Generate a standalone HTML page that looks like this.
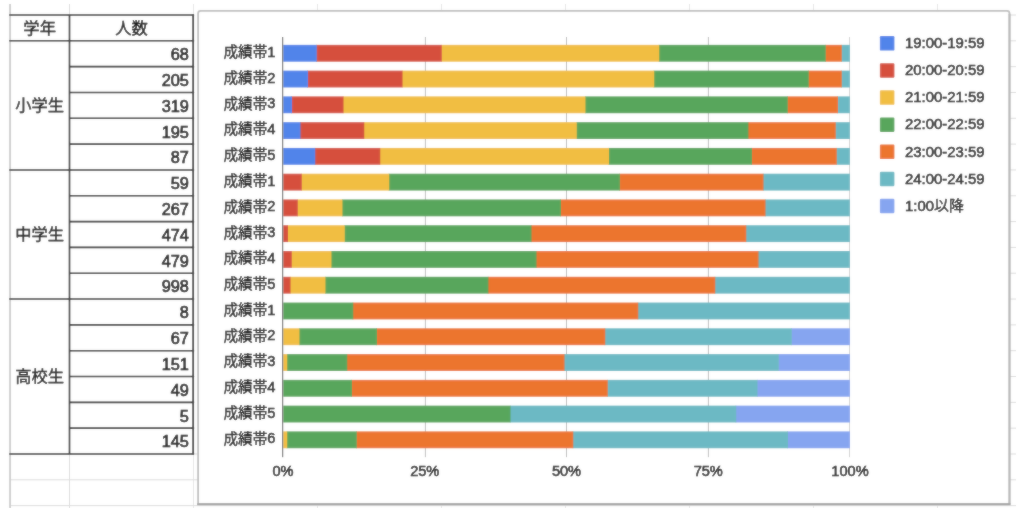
<!DOCTYPE html>
<html><head><meta charset="utf-8"><title>chart</title>
<style>
html,body{margin:0;padding:0;background:#fff;}
body{width:1024px;height:508px;overflow:hidden;}
svg{display:block;font-family:'Liberation Sans', 'Noto Sans CJK JP', sans-serif;}
</style></head><body>
<svg width="1024" height="508" viewBox="0 0 1024 508">
<filter id="bl" x="0" y="0" width="1024" height="508" filterUnits="userSpaceOnUse"><feGaussianBlur stdDeviation="0.9" result="b"/><feComposite in="SourceGraphic" in2="b" operator="arithmetic" k1="0" k2="0.6" k3="0.4" k4="0"/></filter>
<g filter="url(#bl)">
<rect width="1024" height="508" fill="#fff"/>
<line x1="9.8" y1="4" x2="9.8" y2="508" stroke="#dcdcdc" stroke-width="1"/>
<line x1="69.5" y1="4" x2="69.5" y2="508" stroke="#dcdcdc" stroke-width="1"/>
<line x1="193.5" y1="4" x2="193.5" y2="508" stroke="#e6e6e6" stroke-width="1"/>
<line x1="317.5" y1="4" x2="317.5" y2="508" stroke="#e6e6e6" stroke-width="1"/>
<line x1="441.5" y1="4" x2="441.5" y2="508" stroke="#e6e6e6" stroke-width="1"/>
<line x1="565.5" y1="4" x2="565.5" y2="508" stroke="#e6e6e6" stroke-width="1"/>
<line x1="689.5" y1="4" x2="689.5" y2="508" stroke="#e6e6e6" stroke-width="1"/>
<line x1="813.5" y1="4" x2="813.5" y2="508" stroke="#e6e6e6" stroke-width="1"/>
<line x1="937.5" y1="4" x2="937.5" y2="508" stroke="#e6e6e6" stroke-width="1"/>
<line x1="1009" y1="15.00" x2="1016" y2="15.00" stroke="#dcdcdc" stroke-width="1"/>
<line x1="1009" y1="40.82" x2="1016" y2="40.82" stroke="#dcdcdc" stroke-width="1"/>
<line x1="1009" y1="66.65" x2="1016" y2="66.65" stroke="#dcdcdc" stroke-width="1"/>
<line x1="1009" y1="92.47" x2="1016" y2="92.47" stroke="#dcdcdc" stroke-width="1"/>
<line x1="1009" y1="118.29" x2="1016" y2="118.29" stroke="#dcdcdc" stroke-width="1"/>
<line x1="1009" y1="144.12" x2="1016" y2="144.12" stroke="#dcdcdc" stroke-width="1"/>
<line x1="1009" y1="169.94" x2="1016" y2="169.94" stroke="#dcdcdc" stroke-width="1"/>
<line x1="1009" y1="195.76" x2="1016" y2="195.76" stroke="#dcdcdc" stroke-width="1"/>
<line x1="1009" y1="221.58" x2="1016" y2="221.58" stroke="#dcdcdc" stroke-width="1"/>
<line x1="1009" y1="247.41" x2="1016" y2="247.41" stroke="#dcdcdc" stroke-width="1"/>
<line x1="1009" y1="273.23" x2="1016" y2="273.23" stroke="#dcdcdc" stroke-width="1"/>
<line x1="1009" y1="299.05" x2="1016" y2="299.05" stroke="#dcdcdc" stroke-width="1"/>
<line x1="1009" y1="324.88" x2="1016" y2="324.88" stroke="#dcdcdc" stroke-width="1"/>
<line x1="1009" y1="350.70" x2="1016" y2="350.70" stroke="#dcdcdc" stroke-width="1"/>
<line x1="1009" y1="376.52" x2="1016" y2="376.52" stroke="#dcdcdc" stroke-width="1"/>
<line x1="1009" y1="402.35" x2="1016" y2="402.35" stroke="#dcdcdc" stroke-width="1"/>
<line x1="1009" y1="428.17" x2="1016" y2="428.17" stroke="#dcdcdc" stroke-width="1"/>
<line x1="9.3" y1="453.99" x2="1016" y2="453.99" stroke="#dcdcdc" stroke-width="1"/>
<line x1="9.3" y1="479.81" x2="1016" y2="479.81" stroke="#dcdcdc" stroke-width="1"/>
<line x1="9.3" y1="505.64" x2="1016" y2="505.64" stroke="#dcdcdc" stroke-width="1"/>
<line x1="10.1" y1="4" x2="10.1" y2="508" stroke="#cdcdcd" stroke-width="1.8"/>
<line x1="9.3" y1="15.00" x2="194.1" y2="15.00" stroke="#2c2c2c" stroke-width="1.6"/>
<line x1="9.3" y1="40.82" x2="194.1" y2="40.82" stroke="#2c2c2c" stroke-width="1.6"/>
<line x1="69.5" y1="66.65" x2="194.1" y2="66.65" stroke="#2c2c2c" stroke-width="1.6"/>
<line x1="69.5" y1="92.47" x2="194.1" y2="92.47" stroke="#2c2c2c" stroke-width="1.6"/>
<line x1="69.5" y1="118.29" x2="194.1" y2="118.29" stroke="#2c2c2c" stroke-width="1.6"/>
<line x1="69.5" y1="144.12" x2="194.1" y2="144.12" stroke="#2c2c2c" stroke-width="1.6"/>
<line x1="9.3" y1="169.94" x2="194.1" y2="169.94" stroke="#2c2c2c" stroke-width="1.6"/>
<line x1="69.5" y1="195.76" x2="194.1" y2="195.76" stroke="#2c2c2c" stroke-width="1.6"/>
<line x1="69.5" y1="221.58" x2="194.1" y2="221.58" stroke="#2c2c2c" stroke-width="1.6"/>
<line x1="69.5" y1="247.41" x2="194.1" y2="247.41" stroke="#2c2c2c" stroke-width="1.6"/>
<line x1="69.5" y1="273.23" x2="194.1" y2="273.23" stroke="#2c2c2c" stroke-width="1.6"/>
<line x1="9.3" y1="299.05" x2="194.1" y2="299.05" stroke="#2c2c2c" stroke-width="1.6"/>
<line x1="69.5" y1="324.88" x2="194.1" y2="324.88" stroke="#2c2c2c" stroke-width="1.6"/>
<line x1="69.5" y1="350.70" x2="194.1" y2="350.70" stroke="#2c2c2c" stroke-width="1.6"/>
<line x1="69.5" y1="376.52" x2="194.1" y2="376.52" stroke="#2c2c2c" stroke-width="1.6"/>
<line x1="69.5" y1="402.35" x2="194.1" y2="402.35" stroke="#2c2c2c" stroke-width="1.6"/>
<line x1="69.5" y1="428.17" x2="194.1" y2="428.17" stroke="#2c2c2c" stroke-width="1.6"/>
<line x1="9.3" y1="453.99" x2="194.1" y2="453.99" stroke="#2c2c2c" stroke-width="1.6"/>
<line x1="69.5" y1="15.00" x2="69.5" y2="453.99" stroke="#262626" stroke-width="1.6"/>
<line x1="193.2" y1="14.50" x2="193.2" y2="454.59" stroke="#101010" stroke-width="1.7000000000000002"/>
<text x="23.35" y="33.81" font-size="16.3" fill="#000" stroke="#000" stroke-width="0.34">学年</text>
<text x="115.20" y="33.81" font-size="16.3" fill="#000" stroke="#000" stroke-width="0.34">人数</text>
<text x="15.20" y="111.27" font-size="16.3" fill="#000" stroke="#000" stroke-width="0.34">小学生</text>
<text x="15.20" y="240.39" font-size="16.3" fill="#000" stroke="#000" stroke-width="0.34">中学生</text>
<text x="15.20" y="382.42" font-size="16.3" fill="#000" stroke="#000" stroke-width="0.34">高校生</text>
<text x="188.9" y="60.07" font-size="16.3" text-anchor="end" fill="#000" stroke="#000" stroke-width="0.65">68</text>
<text x="188.9" y="85.89" font-size="16.3" text-anchor="end" fill="#000" stroke="#000" stroke-width="0.65">205</text>
<text x="188.9" y="111.72" font-size="16.3" text-anchor="end" fill="#000" stroke="#000" stroke-width="0.65">319</text>
<text x="188.9" y="137.54" font-size="16.3" text-anchor="end" fill="#000" stroke="#000" stroke-width="0.65">195</text>
<text x="188.9" y="163.36" font-size="16.3" text-anchor="end" fill="#000" stroke="#000" stroke-width="0.65">87</text>
<text x="188.9" y="189.18" font-size="16.3" text-anchor="end" fill="#000" stroke="#000" stroke-width="0.65">59</text>
<text x="188.9" y="215.01" font-size="16.3" text-anchor="end" fill="#000" stroke="#000" stroke-width="0.65">267</text>
<text x="188.9" y="240.83" font-size="16.3" text-anchor="end" fill="#000" stroke="#000" stroke-width="0.65">474</text>
<text x="188.9" y="266.65" font-size="16.3" text-anchor="end" fill="#000" stroke="#000" stroke-width="0.65">479</text>
<text x="188.9" y="292.48" font-size="16.3" text-anchor="end" fill="#000" stroke="#000" stroke-width="0.65">998</text>
<text x="188.9" y="318.30" font-size="16.3" text-anchor="end" fill="#000" stroke="#000" stroke-width="0.65">8</text>
<text x="188.9" y="344.12" font-size="16.3" text-anchor="end" fill="#000" stroke="#000" stroke-width="0.65">67</text>
<text x="188.9" y="369.95" font-size="16.3" text-anchor="end" fill="#000" stroke="#000" stroke-width="0.65">151</text>
<text x="188.9" y="395.77" font-size="16.3" text-anchor="end" fill="#000" stroke="#000" stroke-width="0.65">49</text>
<text x="188.9" y="421.59" font-size="16.3" text-anchor="end" fill="#000" stroke="#000" stroke-width="0.65">5</text>
<text x="188.9" y="447.41" font-size="16.3" text-anchor="end" fill="#000" stroke="#000" stroke-width="0.65">145</text>
<path d="M198.1 504.2V13.3Q198.1 10.8 200.6 10.8H1007.0Q1009.5 10.8 1009.5 13.3V504.2Z" fill="#fff" stroke="#bebebe" stroke-width="1.8"/>
<line x1="1009.5" y1="13.8" x2="1009.5" y2="504.2" stroke="#b8b8b8" stroke-width="2.0"/>
<line x1="197.2" y1="504.2" x2="1010.5" y2="504.2" stroke="#a2a2a2" stroke-width="2.0"/>
<line x1="425.40" y1="37" x2="425.40" y2="457.2" stroke="#bcbcbc" stroke-width="1"/>
<line x1="566.50" y1="37" x2="566.50" y2="457.2" stroke="#bcbcbc" stroke-width="1"/>
<line x1="708.40" y1="37" x2="708.40" y2="457.2" stroke="#bcbcbc" stroke-width="1"/>
<line x1="849.50" y1="37" x2="849.50" y2="457.2" stroke="#d2d2d2" stroke-width="1"/>
<rect x="841.15" y="44.85" width="8.85" height="16.85" fill="#6cb9c4" />
<rect x="825.15" y="44.85" width="16.60" height="16.85" fill="#ec742e" />
<rect x="658.65" y="44.85" width="167.10" height="16.85" fill="#59a65c" />
<rect x="441.15" y="44.85" width="218.10" height="16.85" fill="#f1be42" />
<rect x="316.15" y="44.85" width="125.60" height="16.85" fill="#d6503e" />
<rect x="283.30" y="44.85" width="33.45" height="16.85" fill="#5184ea" />
<text x="223.48" y="57.12" font-size="14.6" fill="#050505" stroke="#050505" stroke-width="0.28">成績帯</text><text x="267.28" y="56.80" font-size="14.6" fill="#050505" stroke="#050505" stroke-width="0.48">1</text>
<rect x="841.15" y="70.62" width="8.85" height="16.85" fill="#6cb9c4" />
<rect x="808.15" y="70.62" width="33.60" height="16.85" fill="#ec742e" />
<rect x="653.65" y="70.62" width="155.10" height="16.85" fill="#59a65c" />
<rect x="401.90" y="70.62" width="252.35" height="16.85" fill="#f1be42" />
<rect x="307.40" y="70.62" width="95.10" height="16.85" fill="#d6503e" />
<rect x="283.30" y="70.62" width="24.70" height="16.85" fill="#5184ea" />
<text x="223.48" y="82.89" font-size="14.6" fill="#050505" stroke="#050505" stroke-width="0.28">成績帯</text><text x="267.28" y="82.57" font-size="14.6" fill="#050505" stroke="#050505" stroke-width="0.48">2</text>
<rect x="837.40" y="96.39" width="12.60" height="16.85" fill="#6cb9c4" />
<rect x="787.15" y="96.39" width="50.85" height="16.85" fill="#ec742e" />
<rect x="584.90" y="96.39" width="202.85" height="16.85" fill="#59a65c" />
<rect x="342.90" y="96.39" width="242.60" height="16.85" fill="#f1be42" />
<rect x="291.40" y="96.39" width="52.10" height="16.85" fill="#d6503e" />
<rect x="283.30" y="96.39" width="8.70" height="16.85" fill="#5184ea" />
<text x="223.48" y="108.66" font-size="14.6" fill="#050505" stroke="#050505" stroke-width="0.28">成績帯</text><text x="267.28" y="108.34" font-size="14.6" fill="#050505" stroke="#050505" stroke-width="0.48">3</text>
<rect x="835.15" y="122.16" width="14.85" height="16.85" fill="#6cb9c4" />
<rect x="747.80" y="122.16" width="87.95" height="16.85" fill="#ec742e" />
<rect x="576.15" y="122.16" width="172.25" height="16.85" fill="#59a65c" />
<rect x="363.65" y="122.16" width="213.10" height="16.85" fill="#f1be42" />
<rect x="299.90" y="122.16" width="64.35" height="16.85" fill="#d6503e" />
<rect x="283.30" y="122.16" width="17.20" height="16.85" fill="#5184ea" />
<text x="223.48" y="134.43" font-size="14.6" fill="#050505" stroke="#050505" stroke-width="0.28">成績帯</text><text x="267.28" y="134.11" font-size="14.6" fill="#050505" stroke="#050505" stroke-width="0.48">4</text>
<rect x="836.15" y="147.93" width="13.85" height="16.85" fill="#6cb9c4" />
<rect x="751.40" y="147.93" width="85.35" height="16.85" fill="#ec742e" />
<rect x="608.40" y="147.93" width="143.60" height="16.85" fill="#59a65c" />
<rect x="379.65" y="147.93" width="229.35" height="16.85" fill="#f1be42" />
<rect x="314.65" y="147.93" width="65.60" height="16.85" fill="#d6503e" />
<rect x="283.30" y="147.93" width="31.95" height="16.85" fill="#5184ea" />
<text x="223.48" y="160.20" font-size="14.6" fill="#050505" stroke="#050505" stroke-width="0.28">成績帯</text><text x="267.28" y="159.88" font-size="14.6" fill="#050505" stroke="#050505" stroke-width="0.48">5</text>
<rect x="762.90" y="173.70" width="87.10" height="16.85" fill="#6cb9c4" />
<rect x="619.40" y="173.70" width="144.10" height="16.85" fill="#ec742e" />
<rect x="388.65" y="173.70" width="231.35" height="16.85" fill="#59a65c" />
<rect x="301.15" y="173.70" width="88.10" height="16.85" fill="#f1be42" />
<rect x="283.30" y="173.70" width="18.45" height="16.85" fill="#d6503e" />
<text x="223.48" y="185.97" font-size="14.6" fill="#050505" stroke="#050505" stroke-width="0.28">成績帯</text><text x="267.28" y="185.65" font-size="14.6" fill="#050505" stroke="#050505" stroke-width="0.48">1</text>
<rect x="764.90" y="199.47" width="85.10" height="16.85" fill="#6cb9c4" />
<rect x="560.40" y="199.47" width="205.10" height="16.85" fill="#ec742e" />
<rect x="341.90" y="199.47" width="219.10" height="16.85" fill="#59a65c" />
<rect x="297.15" y="199.47" width="45.35" height="16.85" fill="#f1be42" />
<rect x="283.30" y="199.47" width="14.45" height="16.85" fill="#d6503e" />
<text x="223.48" y="211.74" font-size="14.6" fill="#050505" stroke="#050505" stroke-width="0.28">成績帯</text><text x="267.28" y="211.42" font-size="14.6" fill="#050505" stroke="#050505" stroke-width="0.48">2</text>
<rect x="745.65" y="225.24" width="104.35" height="16.85" fill="#6cb9c4" />
<rect x="530.90" y="225.24" width="215.35" height="16.85" fill="#ec742e" />
<rect x="344.15" y="225.24" width="187.35" height="16.85" fill="#59a65c" />
<rect x="287.40" y="225.24" width="57.35" height="16.85" fill="#f1be42" />
<rect x="283.30" y="225.24" width="4.70" height="16.85" fill="#d6503e" />
<text x="223.48" y="237.51" font-size="14.6" fill="#050505" stroke="#050505" stroke-width="0.28">成績帯</text><text x="267.28" y="237.19" font-size="14.6" fill="#050505" stroke="#050505" stroke-width="0.48">3</text>
<rect x="757.90" y="251.01" width="92.10" height="16.85" fill="#6cb9c4" />
<rect x="535.90" y="251.01" width="222.60" height="16.85" fill="#ec742e" />
<rect x="330.90" y="251.01" width="205.60" height="16.85" fill="#59a65c" />
<rect x="291.15" y="251.01" width="40.35" height="16.85" fill="#f1be42" />
<rect x="283.30" y="251.01" width="8.45" height="16.85" fill="#d6503e" />
<text x="223.48" y="263.28" font-size="14.6" fill="#050505" stroke="#050505" stroke-width="0.28">成績帯</text><text x="267.28" y="262.96" font-size="14.6" fill="#050505" stroke="#050505" stroke-width="0.48">4</text>
<rect x="714.65" y="276.78" width="135.35" height="16.85" fill="#6cb9c4" />
<rect x="487.80" y="276.78" width="227.45" height="16.85" fill="#ec742e" />
<rect x="324.90" y="276.78" width="163.50" height="16.85" fill="#59a65c" />
<rect x="289.90" y="276.78" width="35.60" height="16.85" fill="#f1be42" />
<rect x="283.30" y="276.78" width="7.20" height="16.85" fill="#d6503e" />
<text x="223.48" y="289.05" font-size="14.6" fill="#050505" stroke="#050505" stroke-width="0.28">成績帯</text><text x="267.28" y="288.73" font-size="14.6" fill="#050505" stroke="#050505" stroke-width="0.48">5</text>
<rect x="637.65" y="302.55" width="212.35" height="16.85" fill="#6cb9c4" />
<rect x="352.65" y="302.55" width="285.60" height="16.85" fill="#ec742e" />
<rect x="283.30" y="302.55" width="69.95" height="16.85" fill="#59a65c" />
<text x="223.48" y="314.82" font-size="14.6" fill="#050505" stroke="#050505" stroke-width="0.28">成績帯</text><text x="267.28" y="314.50" font-size="14.6" fill="#050505" stroke="#050505" stroke-width="0.48">1</text>
<rect x="791.15" y="328.32" width="58.85" height="16.85" fill="#86a5f0" />
<rect x="604.65" y="328.32" width="187.10" height="16.85" fill="#6cb9c4" />
<rect x="376.40" y="328.32" width="228.85" height="16.85" fill="#ec742e" />
<rect x="298.90" y="328.32" width="78.10" height="16.85" fill="#59a65c" />
<rect x="283.30" y="328.32" width="16.20" height="16.85" fill="#f1be42" />
<text x="223.48" y="340.59" font-size="14.6" fill="#050505" stroke="#050505" stroke-width="0.28">成績帯</text><text x="267.28" y="340.27" font-size="14.6" fill="#050505" stroke="#050505" stroke-width="0.48">2</text>
<rect x="778.15" y="354.09" width="71.85" height="16.85" fill="#86a5f0" />
<rect x="563.90" y="354.09" width="214.85" height="16.85" fill="#6cb9c4" />
<rect x="346.65" y="354.09" width="217.85" height="16.85" fill="#ec742e" />
<rect x="286.65" y="354.09" width="60.60" height="16.85" fill="#59a65c" />
<rect x="283.30" y="354.09" width="3.95" height="16.85" fill="#f1be42" />
<text x="223.48" y="366.36" font-size="14.6" fill="#050505" stroke="#050505" stroke-width="0.28">成績帯</text><text x="267.28" y="366.04" font-size="14.6" fill="#050505" stroke="#050505" stroke-width="0.48">3</text>
<rect x="756.90" y="379.86" width="93.10" height="16.85" fill="#86a5f0" />
<rect x="607.15" y="379.86" width="150.35" height="16.85" fill="#6cb9c4" />
<rect x="351.40" y="379.86" width="256.35" height="16.85" fill="#ec742e" />
<rect x="283.30" y="379.86" width="68.70" height="16.85" fill="#59a65c" />
<text x="223.48" y="392.13" font-size="14.6" fill="#050505" stroke="#050505" stroke-width="0.28">成績帯</text><text x="267.28" y="391.81" font-size="14.6" fill="#050505" stroke="#050505" stroke-width="0.48">4</text>
<rect x="735.65" y="405.63" width="114.35" height="16.85" fill="#86a5f0" />
<rect x="509.90" y="405.63" width="226.35" height="16.85" fill="#6cb9c4" />
<rect x="283.30" y="405.63" width="227.20" height="16.85" fill="#59a65c" />
<text x="223.48" y="417.90" font-size="14.6" fill="#050505" stroke="#050505" stroke-width="0.28">成績帯</text><text x="267.28" y="417.58" font-size="14.6" fill="#050505" stroke="#050505" stroke-width="0.48">5</text>
<rect x="787.40" y="431.40" width="62.60" height="16.85" fill="#86a5f0" />
<rect x="572.65" y="431.40" width="215.35" height="16.85" fill="#6cb9c4" />
<rect x="356.15" y="431.40" width="217.10" height="16.85" fill="#ec742e" />
<rect x="286.65" y="431.40" width="70.10" height="16.85" fill="#59a65c" />
<rect x="283.30" y="431.40" width="3.95" height="16.85" fill="#f1be42" />
<text x="223.48" y="443.67" font-size="14.6" fill="#050505" stroke="#050505" stroke-width="0.28">成績帯</text><text x="267.28" y="443.35" font-size="14.6" fill="#050505" stroke="#050505" stroke-width="0.48">6</text>
<line x1="282.7" y1="37" x2="282.7" y2="457.2" stroke="#505050" stroke-width="1.0"/>
<text x="283.00" y="475.9" font-size="14.6" text-anchor="middle" fill="#050505" stroke="#050505" stroke-width="0.48">0%</text>
<text x="424.75" y="475.9" font-size="14.6" text-anchor="middle" fill="#050505" stroke="#050505" stroke-width="0.48">25%</text>
<text x="566.50" y="475.9" font-size="14.6" text-anchor="middle" fill="#050505" stroke="#050505" stroke-width="0.48">50%</text>
<text x="708.25" y="475.9" font-size="14.6" text-anchor="middle" fill="#050505" stroke="#050505" stroke-width="0.48">75%</text>
<text x="850.00" y="475.9" font-size="14.6" text-anchor="middle" fill="#050505" stroke="#050505" stroke-width="0.48">100%</text>
<rect x="879.90" y="36.10" width="14.50" height="14.50" fill="#5184ea" rx="1.2"/>
<text x="905.00" y="48.13" font-size="14.9" fill="#050505" stroke="#050505" stroke-width="0.48">19:00-19:59</text>
<rect x="879.90" y="63.22" width="14.50" height="14.50" fill="#d6503e" rx="1.2"/>
<text x="905.00" y="75.25" font-size="14.9" fill="#050505" stroke="#050505" stroke-width="0.48">20:00-20:59</text>
<rect x="879.90" y="90.34" width="14.50" height="14.50" fill="#f1be42" rx="1.2"/>
<text x="905.00" y="102.37" font-size="14.9" fill="#050505" stroke="#050505" stroke-width="0.48">21:00-21:59</text>
<rect x="879.90" y="117.46" width="14.50" height="14.50" fill="#59a65c" rx="1.2"/>
<text x="905.00" y="129.49" font-size="14.9" fill="#050505" stroke="#050505" stroke-width="0.48">22:00-22:59</text>
<rect x="879.90" y="144.58" width="14.50" height="14.50" fill="#ec742e" rx="1.2"/>
<text x="905.00" y="156.61" font-size="14.9" fill="#050505" stroke="#050505" stroke-width="0.48">23:00-23:59</text>
<rect x="879.90" y="171.70" width="14.50" height="14.50" fill="#6cb9c4" rx="1.2"/>
<text x="905.00" y="183.73" font-size="14.9" fill="#050505" stroke="#050505" stroke-width="0.48">24:00-24:59</text>
<rect x="879.90" y="198.82" width="14.50" height="14.50" fill="#86a5f0" rx="1.2"/>
<text x="905.00" y="210.85" font-size="14.9" fill="#050505" stroke="#050505" stroke-width="0.48">1:00</text><text x="934.00" y="211.18" font-size="14.9" fill="#050505" stroke="#050505" stroke-width="0.28">以降</text>
</g>
</svg>
</body></html>
